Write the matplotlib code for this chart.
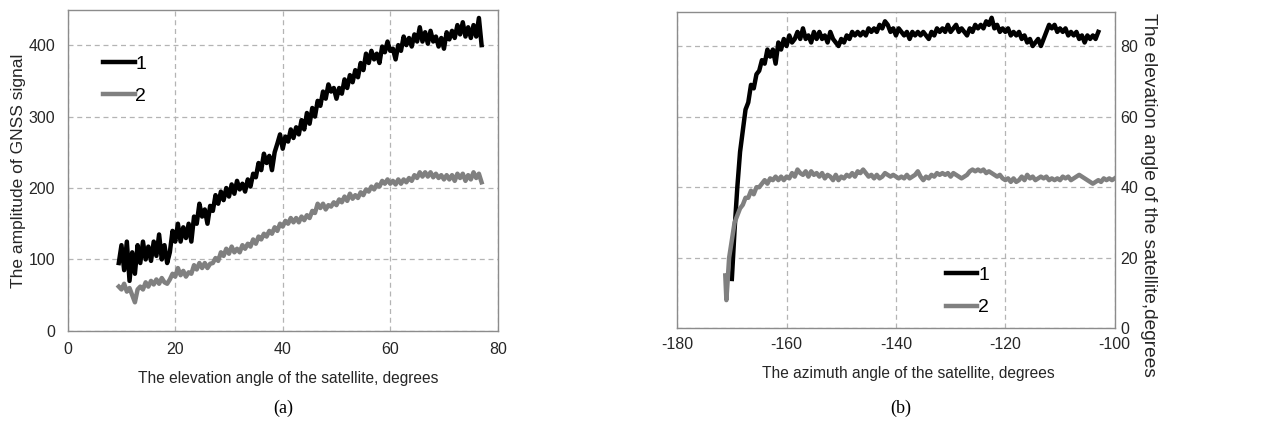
import matplotlib
matplotlib.use("Agg")
import matplotlib.pyplot as plt

plt.rcParams['font.family'] = ['Liberation Sans', 'DejaVu Sans']
plt.rcParams['axes.unicode_minus'] = False

# (a) amplitude vs elevation angle
elev_deg = [9.5, 10.0, 10.5, 11.0, 11.5, 12.0, 12.5, 13.0, 13.5, 14.0, 14.5, 15.0, 15.5, 16.0, 16.5,
            17.0, 17.5, 18.0, 18.5, 19.0, 19.5, 20.0, 20.5, 21.0, 21.5, 22.0, 22.5, 23.0, 23.5, 24.0,
            24.5, 25.0, 25.5, 26.0, 26.5, 27.0, 27.5, 28.0, 28.5, 29.0, 29.5, 30.0, 30.5, 31.0, 31.5,
            32.0, 32.5, 33.0, 33.5, 34.0, 34.5, 35.0, 35.5, 36.0, 36.5, 37.0, 37.5, 38.0, 38.5, 39.0,
            39.5, 40.0, 40.5, 41.0, 41.5, 42.0, 42.5, 43.0, 43.5, 44.0, 44.5, 45.0, 45.5, 46.0, 46.5,
            47.0, 47.5, 48.0, 48.5, 49.0, 49.5, 50.0, 50.5, 51.0, 51.5, 52.0, 52.5, 53.0, 53.5, 54.0,
            54.5, 55.0, 55.5, 56.0, 56.5, 57.0, 57.5, 58.0, 58.5, 59.0, 59.5, 60.0, 60.5, 61.0, 61.5,
            62.0, 62.5, 63.0, 63.5, 64.0, 64.5, 65.0, 65.5, 66.0, 66.5, 67.0, 67.5, 68.0, 68.5, 69.0,
            69.5, 70.0, 70.5, 71.0, 71.5, 72.0, 72.5, 73.0, 73.5, 74.0, 74.5, 75.0, 75.5, 76.0, 76.5,
            77.0]
amp_1 = [95, 120, 85, 125, 70, 110, 80, 120, 95, 125, 100, 118, 98, 125, 105,
         135, 100, 120, 95, 110, 140, 125, 150, 125, 145, 130, 150, 125, 160, 150,
         178, 160, 170, 150, 175, 168, 190, 178, 195, 183, 200, 188, 205, 192, 210,
         198, 206, 195, 212, 202, 220, 215, 235, 225, 248, 235, 245, 225, 250, 262,
         275, 255, 272, 265, 282, 270, 285, 275, 295, 282, 305, 290, 312, 300, 322,
         315, 335, 325, 345, 335, 340, 325, 340, 332, 352, 340, 358, 348, 365, 355,
         375, 365, 388, 375, 392, 380, 388, 375, 398, 390, 405, 392, 395, 380, 400,
         392, 412, 400, 410, 398, 415, 405, 425, 405, 418, 402, 420, 405, 412, 398,
         410, 395, 418, 408, 420, 410, 428, 415, 432, 412, 425, 410, 428, 412, 438,
         400]
amp_2 = [62, 58, 66, 55, 60, 50, 40, 58, 62, 58, 68, 62, 70, 65, 72,
         66, 74, 68, 66, 72, 80, 76, 88, 78, 84, 76, 82, 80, 92, 86,
         95, 88, 95, 88, 94, 95, 102, 98, 110, 105, 115, 108, 118, 110, 115,
         110, 120, 115, 122, 118, 128, 122, 132, 128, 136, 132, 140, 136, 145, 140,
         150, 146, 154, 150, 158, 152, 158, 152, 160, 155, 162, 158, 168, 165, 178,
         172, 178, 170, 176, 174, 180, 176, 184, 180, 188, 182, 192, 185, 190, 186,
         194, 190, 198, 195, 202, 198, 205, 202, 210, 206, 212, 206, 210, 205, 212,
         206, 212, 208, 214, 210, 218, 214, 222, 216, 222, 216, 222, 215, 220, 214,
         218, 212, 218, 212, 218, 210, 220, 214, 220, 210, 218, 212, 222, 214, 220,
         208]

# (b) elevation vs azimuth angle
azim_1 = [-170.0, -169.5, -169.0, -168.5, -168.0, -167.5, -167.0, -166.5, -166.0, -165.5,
          -165.0, -164.5, -164.0, -163.5, -163.0, -162.5, -162.0, -161.5, -161.0, -160.5,
          -160.0, -159.5, -159.0, -158.5, -158.0, -157.5, -157.0, -156.5, -156.0, -155.5,
          -155.0, -154.5, -154.0, -153.5, -153.0, -152.5, -152.0, -151.5, -151.0, -150.5,
          -150.0, -149.5, -149.0, -148.5, -148.0, -147.5, -147.0, -146.5, -146.0, -145.5,
          -145.0, -144.5, -144.0, -143.5, -143.0, -142.5, -142.0, -141.5, -141.0, -140.5,
          -140.0, -139.5, -139.0, -138.5, -138.0, -137.5, -137.0, -136.5, -136.0, -135.5,
          -135.0, -134.5, -134.0, -133.5, -133.0, -132.5, -132.0, -131.5, -131.0, -130.5,
          -130.0, -129.5, -129.0, -128.5, -128.0, -127.5, -127.0, -126.5, -126.0, -125.5,
          -125.0, -124.5, -124.0, -123.5, -123.0, -122.5, -122.0, -121.5, -121.0, -120.5,
          -120.0, -119.5, -119.0, -118.5, -118.0, -117.5, -117.0, -116.5, -116.0, -115.5,
          -115.0, -114.5, -114.0, -113.5, -113.0, -112.5, -112.0, -111.5, -111.0, -110.5,
          -110.0, -109.5, -109.0, -108.5, -108.0, -107.5, -107.0, -106.5, -106.0, -105.5,
          -105.0, -104.5, -104.0, -103.5, -103.0]
elev_1 = [14, 28, 40, 50, 56, 62, 64, 69, 68, 72,
          73, 76, 75, 79, 77, 79, 75, 81, 79, 82,
          80, 83, 81, 82, 84, 82, 85, 82, 83, 81,
          84, 82, 84, 82, 83, 81, 84, 82, 81, 80,
          82, 81, 83, 82, 84, 83, 84, 83, 84, 83,
          85, 84, 85, 84, 86, 85, 87, 86, 84, 85,
          83, 85, 84, 83, 84, 82, 84, 83, 84, 83,
          84, 83, 82, 84, 83, 85, 84, 85, 84, 86,
          84, 85, 86, 84, 85, 84, 83, 85, 84, 86,
          85, 86, 85, 87, 86, 88, 85, 86, 84, 85,
          84, 85, 83, 84, 83, 84, 82, 83, 81, 82,
          80, 81, 82, 80, 82, 84, 86, 85, 86, 84,
          85, 84, 85, 83, 84, 83, 84, 82, 83, 81,
          83, 82, 83, 82, 84]
azim_2 = [-171.2, -171.0, -170.5, -170.0, -169.5, -169.0, -168.5, -168.0, -167.5, -167.0,
          -166.5, -166.0, -165.5, -165.0, -164.5, -164.0, -163.5, -163.0, -162.5, -162.0,
          -161.5, -161.0, -160.5, -160.0, -159.5, -159.0, -158.5, -158.0, -157.5, -157.0,
          -156.5, -156.0, -155.5, -155.0, -154.5, -154.0, -153.5, -153.0, -152.5, -152.0,
          -151.5, -151.0, -150.5, -150.0, -149.5, -149.0, -148.5, -148.0, -147.5, -147.0,
          -146.5, -146.0, -145.5, -145.0, -144.5, -144.0, -143.5, -143.0, -142.5, -142.0,
          -141.5, -141.0, -140.5, -140.0, -139.5, -139.0, -138.5, -138.0, -137.5, -137.0,
          -136.5, -136.0, -135.5, -135.0, -134.5, -134.0, -133.5, -133.0, -132.5, -132.0,
          -131.5, -131.0, -130.5, -130.0, -129.5, -129.0, -128.5, -128.0, -127.5, -127.0,
          -126.5, -126.0, -125.5, -125.0, -124.5, -124.0, -123.5, -123.0, -122.5, -122.0,
          -121.5, -121.0, -120.5, -120.0, -119.5, -119.0, -118.5, -118.0, -117.5, -117.0,
          -116.5, -116.0, -115.5, -115.0, -114.5, -114.0, -113.5, -113.0, -112.5, -112.0,
          -111.5, -111.0, -110.5, -110.0, -109.5, -109.0, -108.5, -108.0, -107.5, -107.0,
          -106.5, -106.0, -105.5, -105.0, -104.5, -104.0, -103.5, -103.0, -102.5, -102.0,
          -101.5, -101.0, -100.5, -100.0]
elev_2 = [15, 8, 20, 25, 30, 32, 34, 35, 37, 37,
          39, 38, 40, 40, 41, 42, 41, 42.5, 42, 43,
          42, 43, 42, 43, 42.5, 44, 43, 45, 44, 43.5,
          44.5, 43, 44.5, 43.5, 44, 43, 44, 42.5, 43.5, 43,
          42, 43.5, 42, 43, 42.5, 43.5, 43, 44, 43, 44.5,
          44, 45, 44, 43, 43.5, 42.5, 43.5, 42.5, 43, 44,
          43.5, 43, 43.5, 43, 42.5, 43, 42.5, 43.5, 42.5, 43,
          43.5, 44.5, 43, 42, 43, 42.5, 43.5, 43, 44, 43.5,
          44, 43.5, 44, 43, 44, 43.5, 43, 42.5, 43, 43.5,
          44.5, 45, 44.5, 45, 44.5, 45, 44, 44.5, 44, 43.5,
          43, 43.5, 42.5, 42, 42.5, 41.5, 42.5, 41.5, 42, 43,
          42, 43.5, 42.5, 43, 42, 42.5, 43, 42.5, 43, 42,
          42.5, 42, 42.5, 42, 43, 42.5, 43, 42, 42.5, 43,
          43.5, 43, 42.5, 42, 41.5, 41, 41.5, 42, 41.5, 42.5,
          42, 42.5, 42, 42.5]

BLACK = '#000000'
GRAY = '#808080'
SPINE = '#8c8c8c'
TXT = '#262626'
LW = 3.2


def style_axes(ax):
    for s in ax.spines.values():
        s.set_color(SPINE)
        s.set_linewidth(1.0)
    ax.grid(True, color='#b4b4b4', linestyle=(0, (4, 3)), linewidth=0.9)
    ax.tick_params(length=0, labelsize=11.5, labelcolor=TXT)


def add_legend(ax, anchor):
    ax.legend(loc='upper left', bbox_to_anchor=anchor, frameon=False, fontsize=14,
              handlelength=1.6, handletextpad=0.05, labelspacing=0.75, borderpad=0, borderaxespad=0)


fig = plt.figure(figsize=(12.61, 4.21), dpi=100)

# panel (a)
ax1 = fig.add_axes([0.0537, 0.214, 0.341, 0.762])
ax1.plot(elev_deg, amp_1, color=BLACK, lw=LW, label='1')
ax1.plot(elev_deg, amp_2, color=GRAY, lw=LW, label='2')
ax1.set_xlim(0, 80)
ax1.set_ylim(0, 449)
ax1.set_xticks([0, 20, 40, 60, 80])
ax1.set_yticks([0, 100, 200, 300, 400])
style_axes(ax1)
ax1.tick_params(axis='x', pad=8)
ax1.tick_params(axis='y', pad=9)
ax1.set_xlabel('The elevation angle of the satellite, degrees', fontsize=11.2, color=TXT)
ax1.xaxis.set_label_coords(0.513, -0.125)
ax1.set_ylabel('The amplitude of GNSS signal', fontsize=12.5, color=TXT, labelpad=2)
add_legend(ax1, (0.083, 0.86))

# panel (b)
ax2 = fig.add_axes([0.537, 0.220, 0.347, 0.752])
ax2.plot(azim_1, elev_1, color=BLACK, lw=LW, label='1')
ax2.plot(azim_2, elev_2, color=GRAY, lw=LW, label='2')
ax2.set_xlim(-180, -100)
ax2.set_ylim(0, 89.7)
ax2.set_xticks([-180, -160, -140, -120, -100])
ax2.set_yticks([0, 20, 40, 60, 80])
ax2.yaxis.tick_right()
style_axes(ax2)
ax2.tick_params(axis='x', pad=6)
ax2.tick_params(axis='y', pad=4)
ax2.set_xlabel('The azimuth angle of the satellite, degrees', fontsize=11.2, color=TXT)
ax2.xaxis.set_label_coords(0.529, -0.12)
add_legend(ax2, (0.615, 0.195))

# right-hand axis title, shifted down like in the source figure
fig.text(1148 / 1261, 1 - 195 / 421, 'The elevation angle of the satellite,degrees', fontsize=13.8,
         color=TXT, rotation=-90, ha='center', va='center')

fig.text(0.2245, 0.03, '(a)', ha='center', va='center', fontsize=13, family='Liberation Serif')
fig.text(0.714, 0.03, '(b)', ha='center', va='center', fontsize=13, family='Liberation Serif')

fig.savefig('out.png', dpi=100)
